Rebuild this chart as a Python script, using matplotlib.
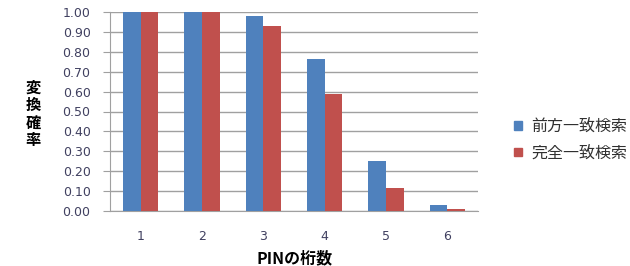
import numpy as np
import matplotlib.pyplot as plt
from matplotlib.patches import Patch

plt.rcParams['font.family'] = ['Noto Sans CJK JP', 'DejaVu Sans']

digits = ['1', '2', '3', '4', '5', '6']
prefix_match = [1.00, 1.00, 0.98, 0.764, 0.253, 0.029]
exact_match = [1.00, 1.00, 0.93, 0.588, 0.117, 0.009]
series_names = ['前方一致検索', '完全一致検索']

blue = '#4f81bd'
red = '#c0504d'

fig = plt.figure(figsize=(6.3, 2.66), dpi=100)
ax = fig.add_axes([110 / 630, 1 - 211 / 266, 368 / 630, 199 / 266])

x = np.arange(len(digits))
w = 0.29
ax.bar(x - w / 2, prefix_match, w, color=blue, zorder=3)
ax.bar(x + w / 2, exact_match, w, color=red, zorder=3)

ax.set_xlim(-0.5, len(digits) - 0.5)
ax.set_ylim(0, 1.0)
yt = np.arange(0, 1.01, 0.1)
ax.set_yticks(yt)
ax.set_yticklabels(['%.2f' % v for v in yt], family='DejaVu Sans')
ax.set_xticks(x)
ax.set_xticklabels(digits, family='DejaVu Sans')
ax.yaxis.grid(True, color='#a0a0a0', linewidth=1, zorder=0)

for s in ['top', 'right']:
    ax.spines[s].set_visible(False)
for s in ['left', 'bottom']:
    ax.spines[s].set_color('#a0a0a0')
ax.tick_params(axis='y', length=5, color='#a0a0a0', labelsize=9, labelcolor='#404060', pad=9)
ax.tick_params(axis='x', length=0, labelsize=9, labelcolor='#404060', pad=14)

# vertical label, one character per line
fig.text(33 / 630, 1 - 114 / 266, '変\n換\n確\n率', ha='center', va='center',
         fontsize=11, fontweight='bold', linespacing=1.12)
fig.text(295 / 630, 1 - 258 / 266, 'PINの桁数', ha='center', va='center',
         fontsize=11.5, fontweight='bold')

handles = [Patch(color=blue), Patch(color=red)]
fig.legend(handles, series_names, loc='center left', bbox_to_anchor=(500 / 630, 1 - 140 / 266),
           frameon=False, fontsize=11.5, handlelength=0.45, handleheight=0.45,
           handletextpad=0.6, labelspacing=0.6, labelcolor='#303030')

fig.savefig('out.png', dpi=100)
